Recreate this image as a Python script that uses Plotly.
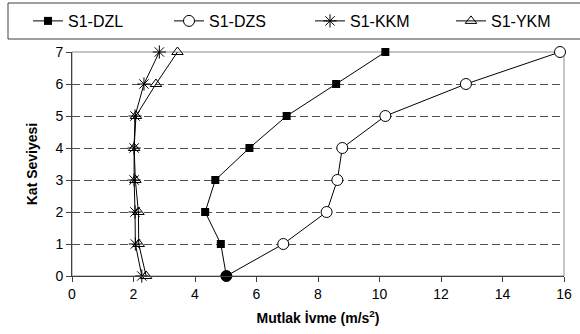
import plotly.graph_objects as go

floors = [0, 1, 2, 3, 4, 5, 6, 7]
s1_dzl = [5.02, 4.84, 4.33, 4.66, 5.77, 6.98, 8.59, 10.19]
s1_dzs = [5.02, 6.87, 8.28, 8.63, 8.79, 10.19, 12.81, 15.87]
s1_kkm = [2.27, 2.06, 2.05, 2.02, 2.02, 2.05, 2.34, 2.84]
s1_ykm = [2.41, 2.17, 2.16, 2.06, 2.02, 2.08, 2.73, 3.43]
x_ticks = [0, 2, 4, 6, 8, 10, 12, 14, 16]
y_ticks = [0, 1, 2, 3, 4, 5, 6, 7]

FONT = "Liberation Sans, Arial, sans-serif"
fig = go.Figure()

fig.add_trace(go.Scatter(
    x=s1_dzl, y=floors, name="S1-DZL", mode="lines+markers",
    line=dict(color="black", width=1),
    marker=dict(symbol="square", size=8, color="black"),
    cliponaxis=False))

# reversed so the first (legend) point is the open one; bottom point drawn filled
dzs_y = floors[::-1]
dzs_x = s1_dzs[::-1]
dzs_fill = ["white"] * (len(dzs_y) - 1) + ["black"]
fig.add_trace(go.Scatter(
    x=dzs_x, y=dzs_y, name="S1-DZS", mode="lines+markers",
    line=dict(color="black", width=1),
    marker=dict(symbol="circle", size=11, color=dzs_fill,
                line=dict(color="black", width=1)),
    cliponaxis=False))

fig.add_trace(go.Scatter(
    x=s1_kkm, y=floors, name="S1-KKM", mode="lines+markers",
    line=dict(color="black", width=1),
    marker=dict(symbol="asterisk-open", size=11, color="black",
                line=dict(color="black", width=1)),
    cliponaxis=False))

fig.add_trace(go.Scatter(
    x=s1_ykm, y=floors, name="S1-YKM", mode="lines+markers",
    line=dict(color="black", width=1),
    marker=dict(symbol="triangle-up-open", size=10, color="black",
                line=dict(color="black", width=1)),
    cliponaxis=False))

W, H = 580, 334
ML, MR, MT, MB = 72, 16, 52, 58
PW, PH = W - ML - MR, H - MT - MB

# plot-area frame (grey) and legend box
fig.add_shape(type="rect", xref="paper", yref="paper", x0=0, x1=1, y0=0, y1=1,
              line=dict(color="#8c8c8c", width=1), layer="between")
fig.add_shape(type="rect", xref="paper", yref="paper",
              x0=(8 - ML) / PW, x1=(584 - ML) / PW,
              y0=(H - MB - 39) / PH, y1=(H - MB - 3) / PH,
              line=dict(color="#404040", width=1), layer="above")

fig.update_layout(
    width=W, height=H,
    margin=dict(l=ML, r=MR, t=MT, b=MB, autoexpand=False),
    paper_bgcolor="white", plot_bgcolor="white",
    font=dict(family=FONT, size=14, color="black"),
    showlegend=True,
    legend=dict(orientation="h", x=(28 - ML) / PW, y=(H - MB - 21) / PH,
                xanchor="left", yanchor="middle",
                font=dict(family=FONT, size=16, color="black"),
                bgcolor="rgba(0,0,0,0)", borderwidth=0,
                entrywidth=96, entrywidthmode="pixels",
                traceorder="normal"),
    xaxis=dict(range=[0, 16], tickvals=x_ticks, showgrid=False, zeroline=False,
               showline=True, linecolor="#404040", linewidth=1,
               ticks="outside", ticklen=5, tickcolor="#404040",
               tickfont=dict(family=FONT, size=14), automargin=False,
               title=dict(text="<b>Mutlak İvme (m/s<sup>2</sup>)</b>",
                          font=dict(family=FONT, size=14), standoff=12)),
    yaxis=dict(range=[0, 7], tickvals=y_ticks, showgrid=True,
               gridcolor="#505050", griddash="8px,4px", gridwidth=1,
               zeroline=False, showline=True, linecolor="#404040", linewidth=1,
               ticks="outside", ticklen=5, tickcolor="#404040",
               tickfont=dict(family=FONT, size=14), automargin=False,
               title=dict(text="<b>Kat Seviyesi</b>",
                          font=dict(family=FONT, size=14), standoff=14)),
)

fig.write_html("out.html", config={"displayModeBar": False},
               post_script="document.body.style.margin='0';document.body.style.overflow='hidden';")
